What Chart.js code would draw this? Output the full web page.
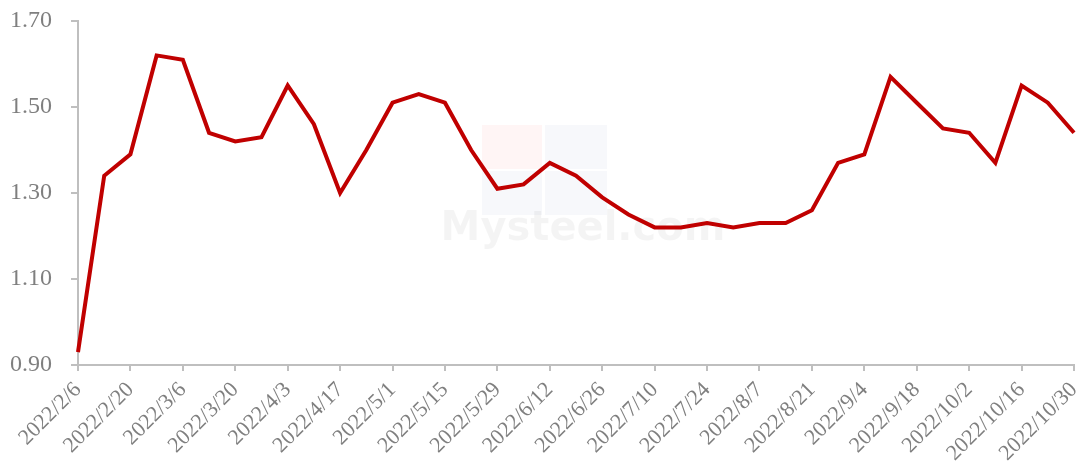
<!DOCTYPE html>
<html>
<head>
<meta charset="utf-8">
<script src="https://cdn.jsdelivr.net/npm/chart.js@4/dist/chart.umd.min.js"></script>
<style>
  html, body { margin: 0; padding: 0; background: #fff; }
  #wrap { width: 1084px; height: 470px; }
</style>
</head>
<body>
<div id="wrap"><canvas id="priceChart"></canvas></div>
<script>
// Weekly dates (label shown every two weeks)
const dates = [
  "2022/2/6", "2022/2/13", "2022/2/20", "2022/2/27", "2022/3/6", "2022/3/13",
  "2022/3/20", "2022/3/27", "2022/4/3", "2022/4/10", "2022/4/17", "2022/4/24",
  "2022/5/1", "2022/5/8", "2022/5/15", "2022/5/22", "2022/5/29", "2022/6/5",
  "2022/6/12", "2022/6/19", "2022/6/26", "2022/7/3", "2022/7/10", "2022/7/17",
  "2022/7/24", "2022/7/31", "2022/8/7", "2022/8/14", "2022/8/21", "2022/8/28",
  "2022/9/4", "2022/9/11", "2022/9/18", "2022/9/25", "2022/10/2", "2022/10/9",
  "2022/10/16", "2022/10/23", "2022/10/30"
];

const values = [
  0.93, 1.34, 1.39, 1.62, 1.61, 1.44,
  1.42, 1.43, 1.55, 1.46, 1.30, 1.40,
  1.51, 1.53, 1.51, 1.40, 1.31, 1.32,
  1.37, 1.34, 1.29, 1.25, 1.22, 1.22,
  1.23, 1.22, 1.23, 1.23, 1.26, 1.37,
  1.39, 1.57, 1.51, 1.45, 1.44, 1.37,
  1.55, 1.51, 1.44
];

const yTicks = [0.90, 1.10, 1.30, 1.50, 1.70];

const axisGray = "#bfbfbf";
const textGray = "#7f7f7f";
const serif = "'Liberation Serif', 'Times New Roman', serif";

// faint watermark behind the line
const watermark = {
  id: "watermark",
  beforeDatasetsDraw(chart) {
    const c = chart.ctx;
    c.save();
    c.fillStyle = "rgba(255,0,0,0.04)";
    c.fillRect(482, 125, 60, 44);
    c.fillStyle = "rgba(40,70,160,0.04)";
    c.fillRect(545, 125, 62, 44);
    c.fillRect(482, 171, 60, 44);
    c.fillRect(545, 171, 62, 44);
    c.font = "bold 40px 'DejaVu Sans', sans-serif";
    c.fillStyle = "rgba(0,0,0,0.045)";
    c.textAlign = "center";
    c.textBaseline = "middle";
    c.fillText("Mysteel.com", 583, 230);
    c.restore();
  }
};

let ctx = document.getElementById("priceChart").getContext("2d");
let priceChart = new Chart(ctx, {
  type: "line",
  data: {
    labels: dates,
    datasets: [{
      data: values,
      borderColor: "#c00000",
      borderWidth: 4,
      pointRadius: 0,
      tension: 0,
      fill: false,
    }],
  },
  options: {
    responsive: true,
    maintainAspectRatio: false,
    animation: false,
    layout: { padding: { left: 0, right: 10, top: 21, bottom: 0 } },
    plugins: {
      legend: { display: false },
      tooltip: { enabled: false },
    },
    scales: {
      x: {
        offset: false,
        afterFit: (axis) => { axis.paddingLeft = 0; axis.paddingRight = 0; axis.height = 105; },
        border: { color: axisGray, width: 2 },
        grid: {
          drawOnChartArea: false,
          drawTicks: true,
          tickLength: 6,
          lineWidth: 2,
          color: (c) => (c.index % 2 === 0 ? axisGray : "rgba(0,0,0,0)"),
        },
        ticks: {
          autoSkip: false,
          maxRotation: 45,
          minRotation: 45,
          color: textGray,
          font: { family: serif, size: 22 },
          padding: 6,
          callback: function (val, i) { return i % 2 === 0 ? dates[i] : ""; },
        },
      },
      y: {
        min: 0.9,
        max: 1.7,
        afterBuildTicks: (axis) => { axis.ticks = yTicks.map(v => ({ value: v })); },
        afterFit: (axis) => { axis.paddingTop = 0; axis.paddingBottom = 0; axis.width = 78; },
        border: { color: axisGray, width: 2 },
        grid: {
          drawOnChartArea: false,
          drawTicks: true,
          tickLength: 7,
          lineWidth: 2,
          color: axisGray,
        },
        ticks: {
          color: textGray,
          font: { family: serif, size: 24 },
          padding: 19,
          callback: (v) => Number(v).toFixed(2),
        },
      },
    },
  },
  plugins: [watermark],
});
</script>
</body>
</html>
